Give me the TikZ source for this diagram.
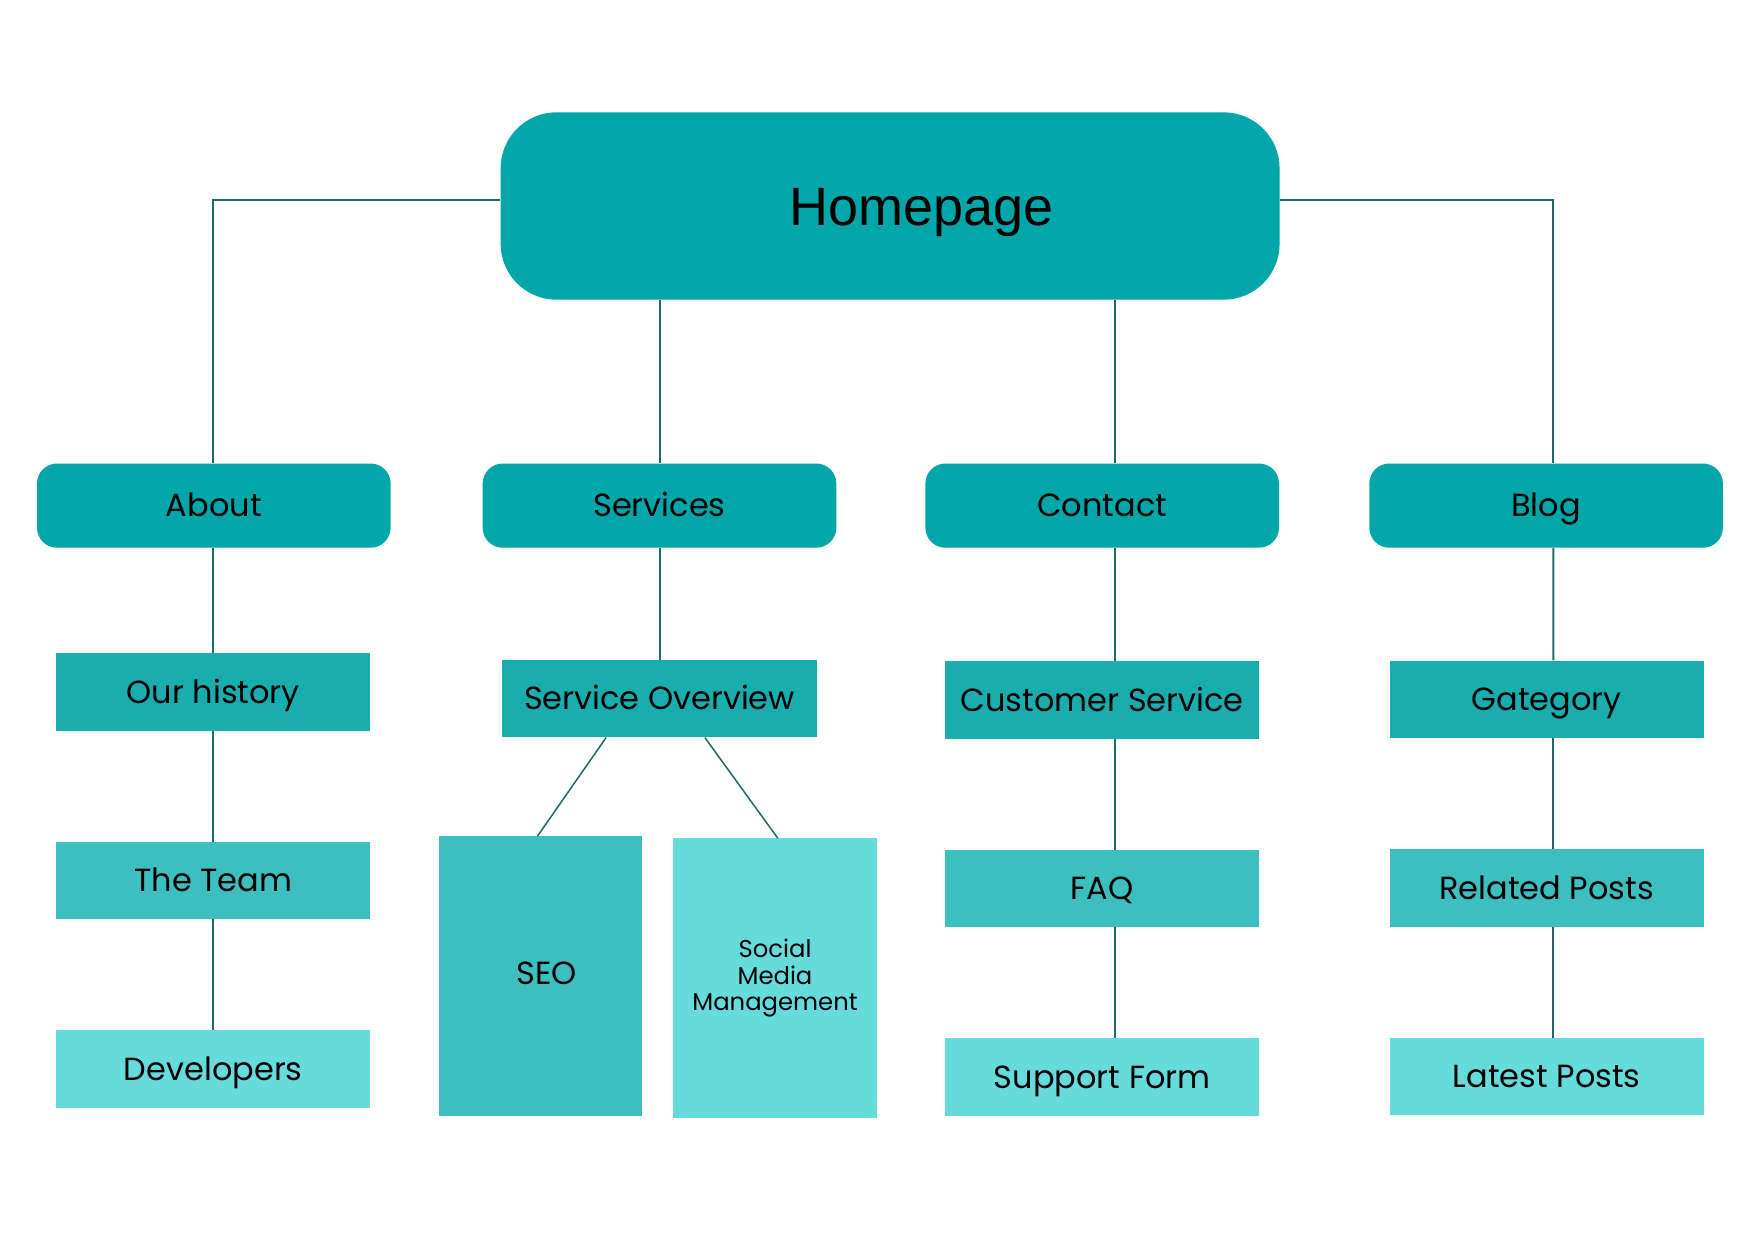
\documentclass[tikz,border=0pt]{standalone}
\usepackage{fontspec}
\setmainfont{Poppins}
\newfontfamily\homefont{Liberation Sans}
\definecolor{lvA}{HTML}{00A6A8}
\definecolor{lvB}{HTML}{19ADAD}
\definecolor{lvC}{HTML}{3DBFC0}
\definecolor{lvD}{HTML}{66DBDB}
\definecolor{linec}{HTML}{22696B}
\tikzset{
  home/.style={fill=lvA, rounded corners=56pt, minimum width=779pt, minimum height=187.4pt, inner sep=0pt},
  topbox/.style={fill=lvA, rounded corners=20pt, minimum width=353.6pt, minimum height=84.2pt, inner sep=0pt, font=\fontsize{32}{38}\selectfont, text height=22.4pt, text depth=0pt},
  lvbox/.style={minimum width=314.3pt, minimum height=77.4pt, inner sep=0pt, font=\fontsize{32}{38}\selectfont, text height=22.4pt, text depth=0pt},
  tallbox/.style={minimum width=203.2pt, minimum height=279.5pt, inner sep=0pt, align=center},
  lbl/.style={inner sep=0pt},
  conn/.style={draw=linec, line width=2pt},
  thinconn/.style={draw=linec, line width=1.5pt}
}
\begin{document}
\begin{tikzpicture}[x=1pt,y=-1pt]
\fill[white] (0,0) rectangle (1760,1232);
\useasboundingbox (0,0) rectangle (1760,1232);
% top
\node[home] (home) at (890.1,206.0) {};
\node[lbl, font=\homefont\fontsize{54}{64}\selectfont, text height=38.7pt, text depth=0pt] (hometext) at (921.6,206.0) {Homepage};
% level 1
\node[topbox] (about) at (213.8,505.6) {About};
\node[topbox] (services) at (659.5,505.6) {Services};
\node[topbox] (contact) at (1102.2,505.6) {Contact};
\node[topbox] (blog) at (1546.1,505.6) {Blog};
% about column
\node[lvbox, fill=lvB] (history) at (213.3,692.0) {Our history};
\node[lvbox, fill=lvC] (team) at (213.3,880.5) {The Team};
\node[lvbox, fill=lvD] (dev) at (213.3,1069.1) {Developers};
% services column
\node[lvbox, fill=lvB] (overview) at (659.5,698.7) {Service Overview};
\node[tallbox, fill=lvC] (seo) at (540.4,975.9) {};
\node[lbl, font=\fontsize{32}{38}\selectfont, text height=22.4pt, text depth=0pt] (seotext) at (546.6,973.6) {SEO};
\node[tallbox, fill=lvD, font=\fontsize{24.3}{26.4}\selectfont] (social) at (775.0,978.2) {Social\\Media\\Management};
% contact column
\node[lvbox, fill=lvB] (custserv) at (1102.2,699.8) {Customer Service};
\node[lvbox, fill=lvC] (faq) at (1102.2,888.4) {FAQ};
\node[lvbox, fill=lvD] (support) at (1102.2,1077.0) {Support Form};
% blog column
\node[lvbox, fill=lvB] (category) at (1546.7,699.3) {Gategory};
\node[lvbox, fill=lvC] (related) at (1546.7,887.8) {Related Posts};
\node[lvbox, fill=lvD] (latest) at (1546.7,1076.4) {Latest Posts};
% connectors
\draw[conn] ([yshift=6.2pt]home.west) -| (history.north |- about.north);
\draw[conn] ([yshift=6.2pt]home.east) -| ([xshift=7.3pt]blog.north);
\draw[conn] (services.north |- home.south) -- (services.north);
\draw[conn] ([xshift=12.3pt]contact.north |- home.south) -- ([xshift=12.3pt]contact.north);
\draw[conn] (history.north |- about.south) -- (history.north);
\draw[conn] (history.south) -- (team.north);
\draw[conn] (team.south) -- (dev.north);
\draw[conn] (services.south) -- (overview.north);
\draw[thinconn] ([xshift=-53.4pt]overview.south) -- ([xshift=-2.8pt]seo.north);
\draw[thinconn] ([xshift=45.4pt]overview.south) -- ([xshift=2.8pt]social.north);
\draw[conn] ([xshift=12.3pt]contact.south) -- ([xshift=12.3pt]custserv.north);
\draw[conn] ([xshift=12.3pt]custserv.south) -- ([xshift=12.3pt]faq.north);
\draw[conn] ([xshift=12.3pt]faq.south) -- ([xshift=12.3pt]support.north);
\draw[conn] ([xshift=7.3pt]blog.south) -- ([xshift=6.7pt]category.north);
\draw[conn] ([xshift=6.7pt]category.south) -- ([xshift=6.7pt]related.north);
\draw[conn] ([xshift=6.7pt]related.south) -- ([xshift=6.7pt]latest.north);
\end{tikzpicture}
\end{document}
